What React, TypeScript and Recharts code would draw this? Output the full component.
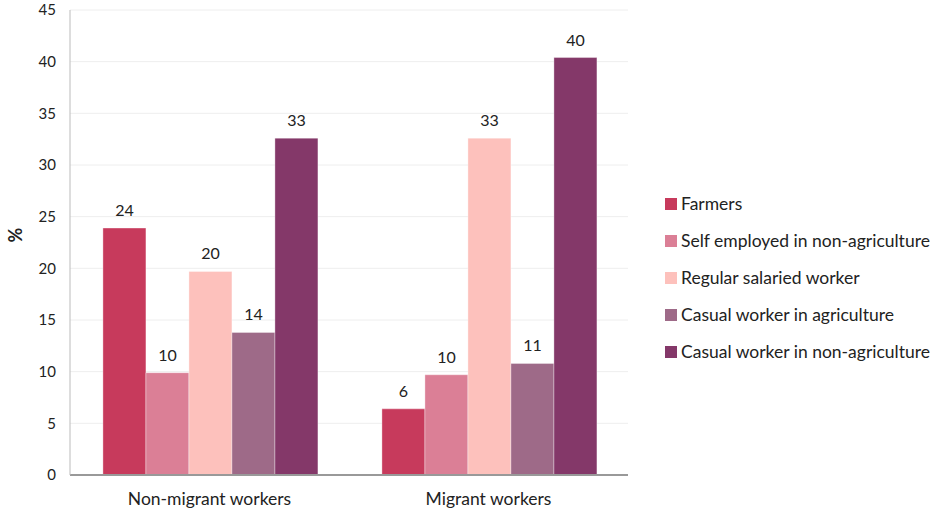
import React from "react";
import {
  BarChart,
  Bar,
  XAxis,
  YAxis,
  CartesianGrid,
  Legend,
  LabelList,
} from "recharts";

const groups = ["Non-migrant workers", "Migrant workers"];
const farmers = [23.9, 6.4];
const selfEmployed = [9.9, 9.7];
const regularSalaried = [19.7, 32.6];
const casualAgri = [13.8, 10.8];
const casualNonAgri = [32.6, 40.4];
const yTicks = [0, 5, 10, 15, 20, 25, 30, 35, 40, 45];

const series = [
  { key: "farmers", name: "Farmers", color: "#C73A5C", values: farmers },
  { key: "selfEmployed", name: "Self employed in non-agriculture", color: "#DB7F96", values: selfEmployed },
  { key: "regular", name: "Regular salaried worker", color: "#FDC1BC", values: regularSalaried },
  { key: "casualAgri", name: "Casual worker in agriculture", color: "#9E6A88", values: casualAgri },
  { key: "casualNonAgri", name: "Casual worker in non-agriculture", color: "#843869", values: casualNonAgri },
];

const data = groups.map((g, i) => {
  const row: Record<string, string | number> = { group: g };
  series.forEach((s) => {
    row[s.key] = s.values[i];
  });
  return row;
});

const FONT = "Lato, 'Open Sans', sans-serif";

function LegendBox() {
  return (
    <div style={{ fontFamily: FONT }}>
      {series.map((s) => (
        <div
          key={s.key}
          style={{ display: "flex", alignItems: "center", height: 37, fontSize: 17.5, color: "#222" }}
        >
          <span
            style={{ width: 12, height: 12, background: s.color, marginRight: 4, display: "inline-block" }}
          />
          <span>{s.name}</span>
        </div>
      ))}
    </div>
  );
}

export default function App() {
  return (
    <div style={{ position: "absolute", left: 0, top: 0, background: "#fff" }}>
      <BarChart
        width={946}
        height={511}
        data={data}
        margin={{ top: 10, right: 318, bottom: 0, left: 0 }}
        barCategoryGap="11.8%"
        barGap={0}
        style={{ fontFamily: FONT }}
      >
        <CartesianGrid vertical={false} stroke="#eeeeee" />
        <XAxis
          dataKey="group"
          height={36}
          tickLine={false}
          tickMargin={12}
          stroke="#999"
          strokeWidth={2}
          tick={{ fill: "#222", fontSize: 17.5 }}
        />
        <YAxis
          width={70}
          domain={[0, 45]}
          ticks={yTicks}
          interval={0}
          tickLine={false}
          tickMargin={8}
          stroke="#bbb"
          tick={{ fill: "#222", fontSize: 15 }}
          label={{ value: "%", angle: -90, position: "insideLeft", offset: 16, fill: "#222", fontSize: 18, fontWeight: 700 }}
        />
        <Legend
          layout="vertical"
          align="center"
          verticalAlign="middle"
          wrapperStyle={{ left: 665, top: 185, width: 290 }}
          content={() => <LegendBox />}
        />
        {series.map((s) => (
          <Bar
            key={s.key}
            dataKey={s.key}
            name={s.name}
            fill={s.color}
            stroke="rgba(255,255,255,0.35)"
            strokeWidth={1}
            isAnimationActive={false}
          >
            <LabelList
              dataKey={s.key}
              position="top"
              offset={12}
              fill="#222"
              fontSize={16}
              formatter={(v: number) => Math.round(v)}
            />
          </Bar>
        ))}
      </BarChart>
    </div>
  );
}
